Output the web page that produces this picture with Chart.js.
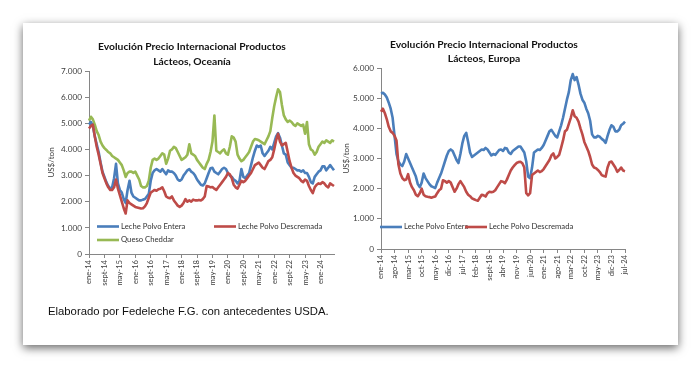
<!DOCTYPE html>
<html><head><meta charset="utf-8">
<script src="https://cdn.jsdelivr.net/npm/chart.js@4.4.1/dist/chart.umd.min.js"></script>
<style>
html,body{margin:0;padding:0;background:#fff;width:700px;height:367px;overflow:hidden;}
#card{position:absolute;left:23px;top:23px;width:655px;height:322px;background:#fff;box-shadow:0px 3px 9px rgba(0,0,0,0.6);}
#c1{position:absolute;left:25px;top:25px;width:320px;height:290px;}
#c2{position:absolute;left:340px;top:25px;width:300px;height:290px;}
#foot{position:absolute;left:48px;top:305px;font-family:'Liberation Sans',Arial,sans-serif;font-size:11.3px;line-height:13px;color:#111;white-space:nowrap;}
</style></head><body>
<div id="card"></div>
<canvas id="c1" width="320" height="290"></canvas>
<canvas id="c2" width="300" height="290"></canvas>
<div id="foot">Elaborado por Fedeleche F.G. con antecedentes USDA.</div>
<script>
// Month names used in the category labels
const monthNames = ['ene','feb','mar','abr','may','jun','jul','ago','sept','oct','nov','dic'];
function monthLabels(n){ const a=[]; for(let i=0;i<n;i++){ a.push(monthNames[i%12]+'-'+(14+Math.floor(i/12))); } return a; }

// ---- Oceanía (ene-14 .. ago-24), US$/ton ----
const oceaniaMonths = monthLabels(128);
const oceaniaEntera = [4950,5050,4900,4500,4200,3900,3500,3150,2950,2750,2600,2500,2550,
 2900,3450,2700,2450,2350,2100,1950,2450,2800,2350,2200,2150,
 2100,2050,2050,2080,2100,2200,2300,2800,3100,3200,3250,3200,
 3150,3250,3150,3050,3200,3150,3150,3100,3000,2850,2800,2850,
 3000,3100,3200,3250,3150,3100,3000,2850,2750,2650,2620,2700,
 2900,3100,3280,3300,3150,3100,3050,3150,3250,3300,3250,3100,
 3000,2950,2850,2800,2700,2800,3250,2950,2900,3000,3100,3400,
 3700,3950,4150,4100,4150,3850,3750,3850,3950,4100,4000,4250,
 4500,4620,4450,4150,3850,3800,3500,3400,3300,3300,3250,3200,
 3200,3150,3200,3100,3100,2950,2750,2700,2950,3050,3150,3200,
 3350,3350,3200,3300,3400,3300,3200];
const oceaniaDescremada = [4800,4900,4950,4500,4100,3800,3450,3100,2900,2700,2550,2450,2450,
 2550,2850,2500,2250,2000,1750,1550,2050,1950,1900,1850,1800,
 1780,1760,1740,1750,1820,1950,2150,2350,2400,2450,2420,2480,
 2500,2550,2400,2200,2150,2130,2200,2050,1950,1850,1800,1850,
 1950,2100,2000,2050,2000,2080,2050,2050,2070,2050,2100,2200,
 2600,2580,2550,2560,2500,2450,2550,2650,2750,2850,2950,3100,
 3050,2900,2650,2550,2500,2650,2800,2750,2800,2900,3000,3100,
 3250,3400,3450,3500,3400,3300,3250,3400,3550,3600,3700,4000,
 4350,4600,4300,4150,4200,4250,3900,3550,3300,3100,3000,2950,
 2900,2800,2750,2850,2800,2600,2450,2330,2550,2650,2700,2680,
 2750,2700,2600,2550,2700,2650,2600];
const oceaniaCheddar = [5100,5250,5150,4950,4700,4550,4300,4150,4050,3980,3900,3850,3750,
 3700,3650,3600,3500,3400,3200,2950,3100,3150,3150,3100,3150,
 3000,2850,2600,2550,2550,2600,2800,3300,3600,3650,3600,3650,
 3750,3850,3800,3450,3650,3950,4000,4100,4050,3900,3750,3600,
 3650,3700,3800,4200,3850,3800,3750,3600,3500,3400,3300,3250,
 3450,3600,3900,4300,5300,3950,3900,3850,3950,4000,3850,3800,
 4100,4500,4450,4300,3800,3650,3550,3600,3700,3800,3900,4100,
 4300,4400,4380,4350,4300,4250,4200,4350,4500,4700,5200,5650,
 6000,6300,6200,5700,5300,5150,5050,5100,5050,4950,4900,5000,
 4950,4900,4950,4600,5050,4200,4000,3950,3800,3900,4100,4200,
 4300,4250,4350,4300,4250,4350,4300];

// ---- Europa (ene-14 .. jul-24), US$/ton ----
const europaMonths = monthLabels(127);
const europaEntera = [5150,5180,5120,5020,4850,4650,4350,3750,3150,2900,2800,2750,
 2900,3150,3000,2850,2700,2550,2400,2150,2050,2200,2500,2350,
 2250,2150,2080,2050,2020,2200,2350,2500,2700,2900,3100,3250,
 3300,3250,3100,2950,2850,3150,3500,3750,3850,3550,3200,3050,
 3100,3150,3200,3250,3300,3280,3350,3300,3200,3100,3150,3120,
 3200,3280,3300,3250,3350,3330,3200,3150,3250,3300,3350,3400,
 3400,3300,3200,2900,2400,2350,2700,3200,3250,3300,3280,3350,
 3450,3600,3750,3900,3950,3850,3750,3700,3900,4100,4350,4650,
 4950,5200,5600,5800,5600,5700,5450,5150,4950,4850,4650,4500,
 4250,3800,3700,3700,3750,3720,3650,3600,3520,3750,3950,4100,
 4050,3900,3900,3950,4100,4150,4220];
const europaDescremada = [4550,4650,4500,4300,4050,3900,3850,3750,3600,2800,2500,2350,
 2280,2300,2480,2200,2050,1950,1800,1750,1850,2000,1800,1750,
 1730,1720,1700,1720,1740,1850,1950,2000,2280,2250,2200,2250,
 2200,2050,1900,2000,2150,2250,2150,2050,1900,1800,1750,1680,
 1650,1620,1600,1700,1800,1780,1740,1850,1900,1880,1900,1950,
 2050,2150,2250,2230,2180,2300,2450,2600,2700,2780,2850,2880,
 2890,2840,2700,1850,1780,1850,2450,2500,2550,2600,2550,2580,
 2650,2750,2850,2950,3100,3170,3000,3050,3120,3350,3600,3900,
 3950,4150,4350,4600,4400,4350,4220,4000,3800,3550,3400,3250,
 3050,2800,2700,2680,2620,2550,2450,2420,2400,2700,2880,2900,
 2800,2700,2560,2620,2700,2600,2580];

const seriesNames = ['Leche Polvo Entera','Leche Polvo Descremada','Queso Cheddar'];
const seriesColors = ['#4A7EBB','#BE4B48','#98B954'];

function fmt(v){ return String(v).replace(/\B(?=(\d{3})+(?!\d))/g,'.'); }
const FONT = 'Lato';
const AX = '#868686';

const overlay = {
  id:'overlay',
  afterDraw(chart, args, opts){
    const ctx = chart.ctx; ctx.save();
    (opts.titles||[]).forEach(t=>{
      ctx.font = 'bold 10.3px '+FONT; ctx.fillStyle='#111'; ctx.textAlign='center'; ctx.textBaseline='middle';
      ctx.fillText(t.text, t.x, t.y);
    });
    (opts.items||[]).forEach(it=>{
      const ds = chart.data.datasets[it.ds];
      ctx.strokeStyle = ds.borderColor; ctx.lineWidth = 2.6; ctx.lineCap='butt';
      ctx.beginPath(); ctx.moveTo(it.x, it.y); ctx.lineTo(it.x+22, it.y); ctx.stroke();
      ctx.font = '7.7px '+FONT; ctx.fillStyle='#333'; ctx.textAlign='left'; ctx.textBaseline='middle';
      ctx.fillText(ds.label, it.x+24, it.y);
    });
    ctx.restore();
  }
};

function makeChart(id, labels, data, step, ymax, pad, yW, xH, titleY, ov){
  return new Chart(document.getElementById(id), {
    type:'line',
    data:{ labels, datasets: data.map((d,i)=>({label:seriesNames[i], data:d, borderColor:seriesColors[i], backgroundColor:seriesColors[i], borderWidth:2.6, pointRadius:0, tension:0, fill:false, borderJoinStyle:'round', order: i===1?-1:i })) },
    options:{
      responsive:false, animation:false, events:[],
      layout:{ padding: pad },
      plugins:{ legend:{display:false}, tooltip:{enabled:false}, title:{display:false}, overlay: ov },
      scales:{
        x:{ type:'category', offset:false,
          grid:{ display:true, drawOnChartArea:false, drawTicks:true, tickLength:4, color:AX },
          border:{ display:true, color:AX, width:1 },
          ticks:{ autoSkip:false, maxRotation:90, minRotation:90, padding:2, font:{family:FONT,size:7.6}, color:'#404040' },
          afterBuildTicks(s){ s.ticks = s.ticks.filter(t=>t.value % step === 0); },
          afterFit(s){ s.height = xH; }
        },
        y:{ min:0, max:ymax,
          grid:{ drawOnChartArea:false, drawTicks:true, tickLength:4, color:AX },
          border:{ display:true, color:AX, width:1 },
          ticks:{ stepSize:1000, padding:3, callback:v=>fmt(v), font:{family:FONT,size:8.2}, color:'#404040' },
          title:{ display:true, text:'US$/ton', font:{family:FONT,size:8}, color:'#404040', padding:{top:titleY,bottom:0} },
          afterFit(s){ s.width = yW; }
        }
      }
    },
    plugins:[overlay]
  });
}

makeChart('c1', oceaniaMonths, [oceaniaEntera, oceaniaDescremada, oceaniaCheddar], 8, 7000,
  {left:20, top:46, right:11, bottom:0}, 44, 61, 2,
  { titles:[{text:'Evolución Precio Internacional Productos', x:167, y:22},{text:'Lácteos, Oceanía', x:167, y:37}],
    items:[{ds:0,x:72,y:201.5},{ds:1,x:189,y:201.5},{ds:2,x:72,y:215}] });

makeChart('c2', europaMonths, [europaEntera, europaDescremada], 7, 6000,
  {left:0, top:43, right:15, bottom:0}, 41, 66, 2,
  { titles:[{text:'Evolución Precio Internacional Productos', x:144, y:20},{text:'Lácteos, Europa', x:144, y:34}],
    items:[{ds:0,x:40,y:202},{ds:1,x:125,y:202}] });
</script>
</body></html>
